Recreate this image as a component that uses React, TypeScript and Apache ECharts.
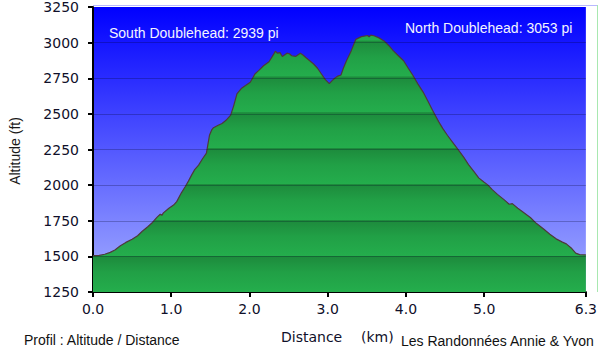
import React, { useEffect, useRef } from "react";
import * as echarts from "echarts";

const distances = [
  0.0, 0.08, 0.15, 0.22, 0.28, 0.35, 0.42, 0.5, 0.57, 0.63, 0.7, 0.76, 0.82, 0.86, 0.88, 0.9, 0.97,
  1.03, 1.07, 1.13, 1.18, 1.22, 1.26, 1.3, 1.35, 1.4, 1.45, 1.47, 1.49, 1.52, 1.54, 1.6, 1.65, 1.7,
  1.76, 1.8, 1.84, 1.9, 1.95, 2.01, 2.07, 2.12, 2.18, 2.25, 2.31, 2.33, 2.36, 2.39, 2.42, 2.48, 2.51,
  2.54, 2.59, 2.65, 2.68, 2.72, 2.77, 2.82, 2.87, 2.92, 2.97, 3.02, 3.06, 3.09, 3.13, 3.17, 3.2, 3.24,
  3.3, 3.36, 3.43, 3.51, 3.53, 3.55, 3.59, 3.65, 3.72, 3.78, 3.84, 3.9, 3.97, 4.03, 4.09, 4.15, 4.22,
  4.28, 4.34, 4.42, 4.47, 4.53, 4.59, 4.67, 4.74, 4.8, 4.87, 4.93, 5.0, 5.05, 5.1, 5.17, 5.25, 5.32,
  5.36, 5.43, 5.5, 5.59, 5.67, 5.76, 5.84, 5.92, 6.0, 6.05, 6.12, 6.17, 6.22, 6.3,
];
const altitudes = [
  1505, 1507, 1515, 1528, 1545, 1575, 1598, 1620, 1645, 1676, 1708, 1738, 1775, 1796, 1788, 1805, 1838,
  1860, 1884, 1946, 1990, 2028, 2070, 2109, 2140, 2185, 2224, 2290, 2352, 2390, 2403, 2420, 2433, 2455,
  2491, 2560, 2641, 2680, 2699, 2722, 2780, 2805, 2838, 2866, 2919, 2939, 2926, 2930, 2903, 2926, 2922,
  2908, 2903, 2926, 2915, 2896, 2873, 2850, 2820, 2780, 2740, 2712, 2735, 2750, 2765, 2773, 2820, 2873,
  2942, 3023, 3042, 3050, 3040, 3053, 3048, 3035, 3012, 2980, 2942, 2910, 2873, 2820, 2769, 2712, 2653,
  2590, 2526, 2444, 2398, 2350, 2306, 2248, 2195, 2144, 2095, 2051, 2020, 2000, 1970, 1935, 1900, 1866,
  1870, 1838, 1810, 1773, 1730, 1692, 1655, 1623, 1600, 1588, 1555, 1523, 1512, 1510,
];
const xTickValues = [0, 1, 2, 3, 4, 5, 6.3];
const gridLineValues = [1500, 1750, 2000, 2250, 2500, 2750, 3000];
const peakLabels = ["South Doublehead: 2939 pi", "North Doublehead: 3053 pi"];

export default function App() {
  const ref = useRef<HTMLDivElement>(null);
  useEffect(() => {
    document.body.style.margin = "0";
    const chart = echarts.init(ref.current!, null, { renderer: "svg" });
    const top = 5;
    const bottom = 292;
    const bands = 8;
    const stops: { offset: number; color: string }[] = [];
    for (let k = 0; k < bands; k++) {
      const a = k / bands;
      const b = (k + 1) / bands;
      stops.push({ offset: a, color: "#1d8a3c" });
      stops.push({ offset: a + 0.45 / bands, color: "#21a046" });
      stops.push({ offset: b - 0.002, color: "#24ad4c" });
    }
    const greenFill = new echarts.graphic.LinearGradient(0, top, 0, bottom, stops, true);
    const sky = new echarts.graphic.LinearGradient(0, 0, 0, 1, [
      { offset: 0, color: "#0000ff" },
      { offset: 1, color: "#a6b0ff" },
    ]);
    const textFont = "'Liberation Sans', Arial, sans-serif";
    const axisFont = "'DejaVu Sans', Verdana, sans-serif";
    const option: any = {
      animation: false,
      grid: {
        left: 93,
        right: 3.3,
        top: top,
        bottom: 354 - bottom,
        show: true,
        backgroundColor: sky,
        borderWidth: 0,
      },
      xAxis: {
        type: "value",
        min: 0,
        max: 6.3,
        interval: 1,
        axisLine: { show: true, onZero: false, lineStyle: { color: "#000", width: 2 } },
        axisTick: {
          show: true,
          length: 5,
          customValues: xTickValues,
          lineStyle: { color: "#000", width: 2 },
        },
        axisLabel: {
          customValues: xTickValues,
          formatter: (v: number) => v.toFixed(1),
          fontFamily: axisFont,
          fontSize: 14,
          color: "#10102a",
          margin: 10,
        },
        splitLine: { show: false },
      },
      yAxis: {
        type: "value",
        min: 1250,
        max: 3250,
        interval: 250,
        axisLine: { show: true, lineStyle: { color: "#000", width: 2 } },
        axisTick: { show: true, length: 5, lineStyle: { color: "#000", width: 2 } },
        axisLabel: {
          formatter: (v: number) => String(v),
          fontFamily: axisFont,
          fontSize: 14,
          color: "#10102a",
          margin: 14,
        },
        splitLine: { show: false },
      },
      series: [
        {
          type: "line",
          data: distances.map((d, i) => [d, altitudes[i]]),
          symbol: "none",
          smooth: false,
          lineStyle: { color: "#4d3a3a", width: 1.2 },
          areaStyle: { color: greenFill, opacity: 1 },
          markLine: {
            silent: true,
            symbol: ["none", "none"],
            label: { show: false },
            lineStyle: { color: "rgba(0,0,30,0.25)", width: 1.2, type: "solid" },
            data: gridLineValues.map((v) => ({ yAxis: v })),
          },
        },
      ],
      graphic: [
        {
          type: "line",
          shape: { x1: 93, y1: top + 0.5, x2: 597, y2: top + 0.5 },
          style: { stroke: "#b8b8ff", lineWidth: 1 },
          z: 10,
        },
        {
          type: "line",
          shape: { x1: 597.5, y1: top, x2: 597.5, y2: bottom },
          style: { stroke: "#a8e8b0", lineWidth: 1 },
          z: 10,
        },
        {
          type: "text",
          x: 109,
          y: 33,
          style: {
            text: peakLabels[0],
            fill: "#f4f4ff",
            font: `14px ${textFont}`,
            textAlign: "left",
            textVerticalAlign: "middle",
          },
          z: 20,
        },
        {
          type: "text",
          x: 405,
          y: 28,
          style: {
            text: peakLabels[1],
            fill: "#f4f4ff",
            font: `14px ${textFont}`,
            textAlign: "left",
            textVerticalAlign: "middle",
          },
          z: 20,
        },
        {
          type: "text",
          x: 15,
          y: 151,
          rotation: Math.PI / 2,
          style: {
            text: "Altitude (ft)",
            fill: "#1a1a1a",
            font: `14px ${textFont}`,
            textAlign: "center",
            textVerticalAlign: "middle",
          },
        },
        {
          type: "text",
          x: 24,
          y: 340,
          style: {
            text: "Profil : Altitude / Distance",
            fill: "#111",
            font: `14px ${textFont}`,
            textAlign: "left",
            textVerticalAlign: "middle",
          },
        },
        {
          type: "text",
          x: 281,
          y: 337,
          style: {
            text: "Distance",
            fill: "#10102a",
            font: `14px ${axisFont}`,
            textAlign: "left",
            textVerticalAlign: "middle",
          },
        },
        {
          type: "text",
          x: 361,
          y: 337,
          style: {
            text: "(km)",
            fill: "#10102a",
            font: `14px ${axisFont}`,
            textAlign: "left",
            textVerticalAlign: "middle",
          },
        },
        {
          type: "text",
          x: 401,
          y: 341,
          style: {
            text: "Les Randonnées Annie & Yvon",
            fill: "#111",
            font: `14px ${textFont}`,
            textAlign: "left",
            textVerticalAlign: "middle",
          },
        },
      ],
    };
    chart.setOption(option);
    return () => chart.dispose();
  }, []);
  return <div ref={ref} style={{ width: 600, height: 354 }} />;
}
